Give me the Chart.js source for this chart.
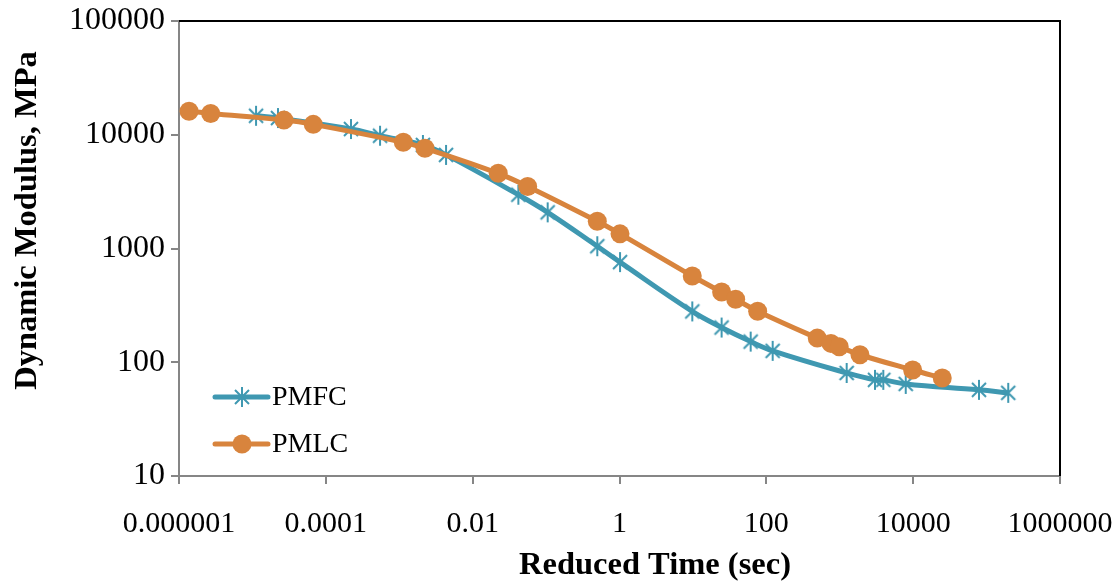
<!DOCTYPE html>
<html>
<head>
<meta charset="utf-8">
<script src="https://cdn.jsdelivr.net/npm/chart.js@4/dist/chart.umd.min.js"></script>
<style>
  html, body { margin: 0; padding: 0; background: #ffffff; }
  #wrap { width: 1120px; height: 584px; }
</style>
</head>
<body>
<div id="wrap"><canvas id="c" width="1120" height="584"></canvas></div>
<script>
// ---- data ----
const pmfcTime    = [1.12e-5, 2.23e-5, 2.2e-4, 5.47e-4, 2.1e-3, 4.34e-3, 0.0419, 0.105, 0.498, 1.016, 9.8, 24.6, 61.2, 122, 1242, 3020, 3917, 7910, 78700, 197000];
const pmfcModulus = [14680, 14020, 11230, 9810, 8130, 6650, 2970, 2080, 1047, 759, 280, 202, 152, 126, 80.5, 70, 70, 64.5, 57.2, 53.8];
const pmlcTime    = [1.37e-6, 2.7e-6, 2.69e-5, 6.74e-5, 1.135e-3, 2.24e-3, 0.0223, 0.0561, 0.498, 1.016, 9.8, 24.6, 38.2, 76.2, 494, 759, 984, 1884, 9840, 24900];
const pmlcModulus = [16100, 15400, 13450, 12340, 8590, 7610, 4580, 3510, 1733, 1345, 573, 414, 358, 281, 163, 146.5, 136.8, 116.4, 85.5, 72.8];
const seriesNames = ['PMFC', 'PMLC'];
const xTickValues = [0.000001, 0.0001, 0.01, 1, 100, 10000, 1000000];
const xTickLabels = ['0.000001', '0.0001', '0.01', '1', '100', '10000', '1000000'];
const yTickValues = [10, 100, 1000, 10000, 100000];
const yTickLabels = ['10', '100', '1000', '10000', '100000'];
const xTitle = 'Reduced Time (sec)';
const yTitle = 'Dynamic Modulus, MPa';

// ---- styles ----
const BLUE = '#3F98B1';
const ORANGE = '#D8843D';
const AXIS_GRAY = '#868686';
const FONT = '"Liberation Serif", "Times New Roman", serif';

function makeStar(color) {
  const c = document.createElement('canvas');
  c.width = 24; c.height = 24;
  const g = c.getContext('2d');
  g.strokeStyle = color; g.lineWidth = 2; g.lineCap = 'butt';
  g.beginPath();
  g.moveTo(12, 2); g.lineTo(12, 22);
  g.moveTo(5, 5); g.lineTo(19, 19);
  g.moveTo(19, 5); g.lineTo(5, 19);
  g.stroke();
  return c;
}
const starImg = makeStar(BLUE);

const toPoints = (xs, ys) => xs.map((x, i) => ({ x: x, y: ys[i] }));

const decorPlugin = {
  id: 'decor',
  afterDraw(chart) {
    const ctx = chart.ctx;
    const a = chart.chartArea;
    ctx.save();
    // top and right frame
    ctx.strokeStyle = '#000000';
    ctx.lineWidth = 2;
    ctx.beginPath();
    ctx.moveTo(a.left, a.top);
    ctx.lineTo(a.right, a.top);
    ctx.lineTo(a.right, a.bottom);
    ctx.stroke();

    // axis titles
    ctx.fillStyle = '#000000';
    ctx.font = 'bold 32.5px ' + FONT;
    ctx.textAlign = 'center';
    ctx.textBaseline = 'alphabetic';
    ctx.fillText(xTitle, 655, 574);
    ctx.save();
    ctx.translate(36, 220.5);
    ctx.rotate(-Math.PI / 2);
    ctx.fillText(yTitle, 0, 0);
    ctx.restore();

    // legend inside plot area
    const rows = [
      { name: seriesNames[0], color: BLUE, y: 397, star: true },
      { name: seriesNames[1], color: ORANGE, y: 444, star: false }
    ];
    rows.forEach(r => {
      ctx.strokeStyle = r.color;
      ctx.lineWidth = 5;
      ctx.lineCap = 'round';
      ctx.beginPath();
      ctx.moveTo(215, r.y);
      ctx.lineTo(268, r.y);
      ctx.stroke();
      if (r.star) {
        ctx.drawImage(starImg, 242 - 12, r.y - 12);
      } else {
        ctx.fillStyle = r.color;
        ctx.beginPath();
        ctx.arc(242, r.y, 9.5, 0, Math.PI * 2);
        ctx.fill();
      }
      ctx.fillStyle = '#000000';
      ctx.font = '28px ' + FONT;
      ctx.textAlign = 'left';
      ctx.textBaseline = 'middle';
      ctx.fillText(r.name, 272, r.y + 1);
    });
    ctx.restore();
  }
};

new Chart(document.getElementById('c'), {
  type: 'line',
  data: {
    datasets: [
      {
        label: seriesNames[0],
        data: toPoints(pmfcTime, pmfcModulus),
        borderColor: BLUE,
        backgroundColor: BLUE,
        borderWidth: 5,
        tension: 0.4,
        pointStyle: starImg,
        pointRadius: 10,
        pointHoverRadius: 10,
        fill: false,
        order: 1
      },
      {
        label: seriesNames[1],
        data: toPoints(pmlcTime, pmlcModulus),
        borderColor: ORANGE,
        backgroundColor: ORANGE,
        borderWidth: 5,
        tension: 0.4,
        pointStyle: 'circle',
        pointRadius: 9.5,
        pointBorderWidth: 0,
        pointHoverRadius: 9.5,
        fill: false,
        order: 0
      }
    ]
  },
  options: {
    responsive: false,
    animation: false,
    events: [],
    layout: { padding: { top: 21, right: 60, left: 0, bottom: 0 } },
    plugins: {
      legend: { display: false },
      tooltip: { enabled: false },
      title: { display: false }
    },
    scales: {
      x: {
        type: 'logarithmic',
        min: 0.000001,
        max: 1000000,
        afterBuildTicks: (s) => { s.ticks = xTickValues.map(v => ({ value: v })); },
        afterFit: (s) => { s.height = 108; s.paddingLeft = 0; s.paddingRight = 0; },
        ticks: {
          autoSkip: false,
          maxRotation: 0,
          padding: 22,
          color: '#000000',
          font: { family: FONT, size: 30 },
          callback: (v) => { const i = xTickValues.findIndex(t => Math.abs(Math.log10(t) - Math.log10(v)) < 1e-6); return i >= 0 ? xTickLabels[i] : ''; }
        },
        grid: { drawOnChartArea: false, drawTicks: true, tickLength: 8, color: AXIS_GRAY, lineWidth: 2 },
        border: { display: true, color: AXIS_GRAY, width: 2 }
      },
      y: {
        type: 'logarithmic',
        min: 10,
        max: 100000,
        afterBuildTicks: (s) => { s.ticks = yTickValues.map(v => ({ value: v })); },
        afterFit: (s) => { s.width = 179; s.paddingTop = 0; s.paddingBottom = 0; },
        ticks: {
          autoSkip: false,
          padding: 6,
          color: '#000000',
          font: { family: FONT, size: 32 },
          callback: (v) => { const i = yTickValues.findIndex(t => Math.abs(Math.log10(t) - Math.log10(v)) < 1e-6); return i >= 0 ? yTickLabels[i] : ''; }
        },
        grid: { drawOnChartArea: false, drawTicks: true, tickLength: 8, color: AXIS_GRAY, lineWidth: 2 },
        border: { display: true, color: AXIS_GRAY, width: 2 }
      }
    }
  },
  plugins: [decorPlugin]
});
</script>
</body>
</html>
